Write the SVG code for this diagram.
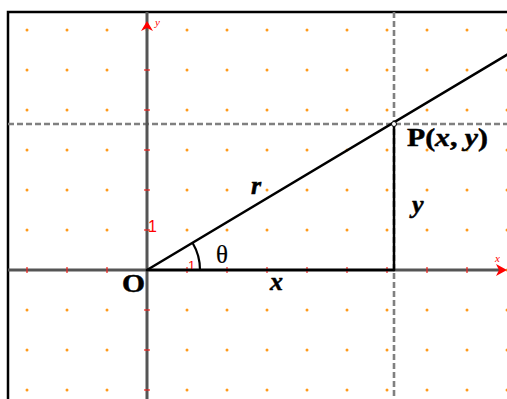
<svg xmlns="http://www.w3.org/2000/svg" width="507" height="399" viewBox="0 0 507 399">
<defs>
<style>
.dot{fill:#ff9a1a}
.axis{stroke:#555;stroke-width:3;fill:none}
.tick{stroke:#e22;stroke-width:1.2}
.dash{stroke:#808080;stroke-width:2.6;stroke-dasharray:6,3;fill:none}
.seg{stroke:#000;stroke-width:2.5;fill:none;stroke-linecap:round}
.red1{font-family:"Liberation Sans",Arial,sans-serif;fill:#f00}
.axl{font-family:"Liberation Serif","Times New Roman",serif;font-style:italic;font-size:11px;fill:#f00}
.lbl{font-family:"Liberation Serif","Times New Roman",serif;font-weight:bold;font-size:26px;fill:#000;stroke:#000;stroke-width:0.5}
.it{font-style:italic}
</style>
<pattern id="dots" x="7" y="10" width="40" height="40" patternUnits="userSpaceOnUse">
<circle cx="20" cy="20" r="1.5" class="dot"/>
</pattern>
</defs>
<rect width="507" height="399" fill="#fff"/>
<rect x="8" y="12" width="499" height="387" fill="url(#dots)"/>
<g id="border"><path d="M8 399 V12 H507" stroke="#000" stroke-width="2.5" fill="none"/></g>
<g id="guides">
<line class="dash" x1="8" y1="124" x2="507" y2="124"/>
<line class="dash" x1="394" y1="12" x2="394" y2="399"/>
</g>
<g id="axes">
<line class="axis" x1="8" y1="270" x2="500" y2="270"/>
<line class="axis" x1="147" y1="399" x2="147" y2="12"/>
<polygon points="507,270 496,264 499,270 496,276" fill="#f00"/>
<polygon points="147,21 141,31 147,28 153,31" fill="#f00"/>
<g class="tick">
<line x1="27" y1="267" x2="27" y2="273"/><line x1="67" y1="267" x2="67" y2="273"/><line x1="107" y1="267" x2="107" y2="273"/>
<line x1="187" y1="267" x2="187" y2="273"/><line x1="227" y1="267" x2="227" y2="273"/><line x1="267" y1="267" x2="267" y2="273"/>
<line x1="307" y1="267" x2="307" y2="273"/><line x1="347" y1="267" x2="347" y2="273"/><line x1="387" y1="267" x2="387" y2="273"/>
<line x1="427" y1="267" x2="427" y2="273"/><line x1="467" y1="267" x2="467" y2="273"/>
<line x1="144" y1="70" x2="150" y2="70"/><line x1="144" y1="110" x2="150" y2="110"/><line x1="144" y1="150" x2="150" y2="150"/>
<line x1="144" y1="190" x2="150" y2="190"/><line x1="144" y1="230" x2="150" y2="230"/>
<line x1="144" y1="310" x2="150" y2="310"/><line x1="144" y1="350" x2="150" y2="350"/><line x1="144" y1="390" x2="150" y2="390"/>
</g>
<text class="axl" x="155" y="26">y</text>
<text class="axl" x="495" y="262">x</text>
<text class="red1" x="148" y="232" font-size="16">1</text>
<text class="red1" x="188" y="270" font-size="13">1</text>
</g>
<g id="connectors">
<line class="seg" x1="147" y1="270" x2="394" y2="270"/>
<line class="seg" x1="394" y1="124" x2="394" y2="270"/>
<line class="seg" x1="147" y1="270" x2="510" y2="53"/>
<path d="M200 270 A53 53 0 0 0 192.5 242.8" stroke="#000" stroke-width="2.2" fill="none"/>
</g>
<g id="point-P"><circle cx="394" cy="124" r="2.5" fill="#fff" stroke="#000" stroke-width="1"/></g>
<g id="labels">
<text class="lbl" x="122" y="292" textLength="23" lengthAdjust="spacingAndGlyphs">O</text>
<text class="lbl it" x="270" y="290" font-size="28">x</text>
<text class="lbl" x="216" y="263" style="font-weight:normal;font-size:25px;stroke-width:0.2">θ</text>
<text class="lbl it" x="251" y="194" font-size="27">r</text>
<text class="lbl it" x="412" y="213" font-size="27">y</text>
<text class="lbl" x="407" y="146" font-size="24" textLength="81" lengthAdjust="spacingAndGlyphs">P(<tspan class="it">x</tspan>, <tspan class="it">y</tspan>)</text>
</g>
</svg>
